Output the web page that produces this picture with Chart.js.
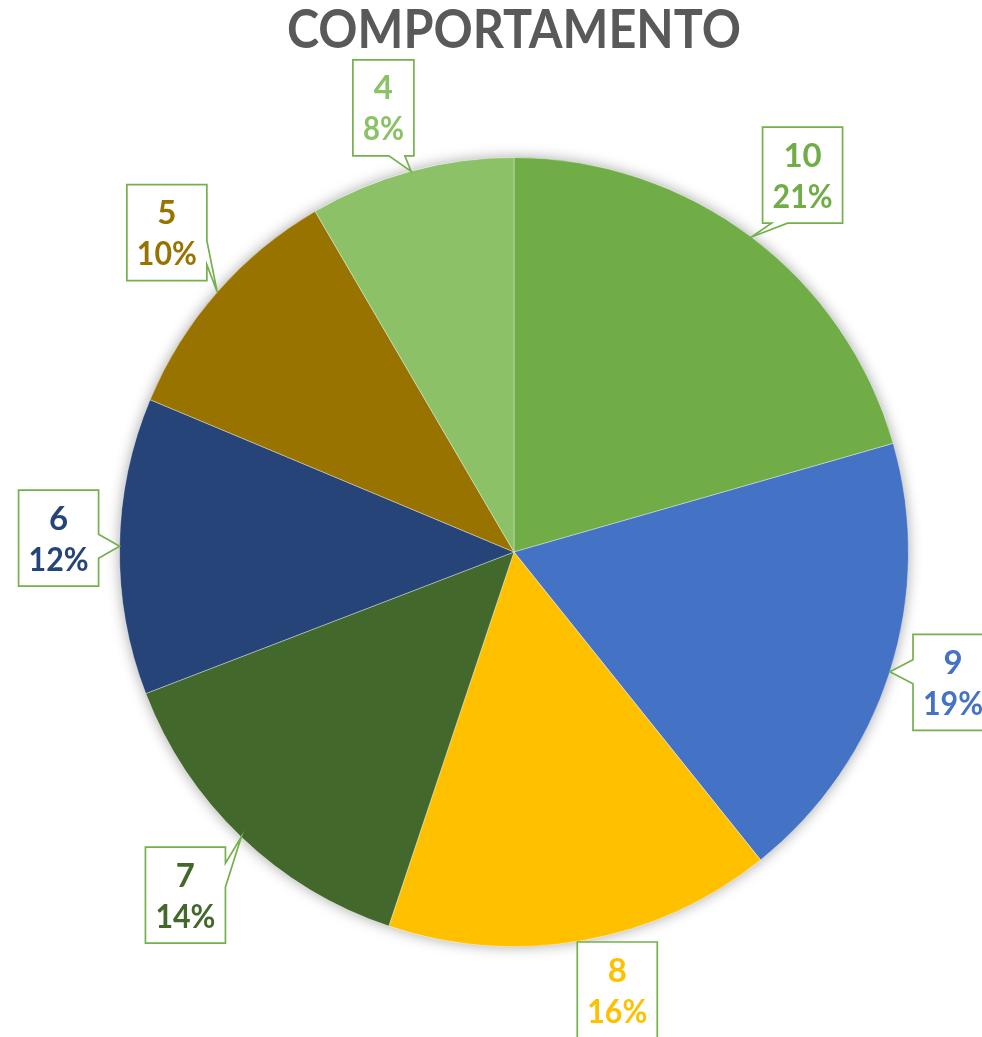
<!DOCTYPE html>
<html>
<head>
<meta charset="utf-8">
<script src="https://cdn.jsdelivr.net/npm/chart.js@4.4.1/dist/chart.umd.min.js"></script>
<style>
  html, body { margin: 0; padding: 0; background: #ffffff; }
  #wrap { width: 982px; height: 1037px; }
</style>
</head>
<body>
<div id="wrap"><canvas id="pie" width="982" height="1037"></canvas></div>
<script>
// Chart data
const chartTitle = 'COMPORTAMENTO';
const categories = ['10', '9', '8', '7', '6', '5', '4'];
const counts = [22, 20, 17, 15, 13, 11, 9];
const sliceColors = ['#70AD47', '#4472C4', '#FFC000', '#43682B', '#264478', '#997300', '#8CC168'];

// small nudges for the callout boxes, relative to their radial spot
const labelNudge = [[6, -2], [3, -12], [21, -5], [-4, 4], [14, -7], [6, -10], [-8, 9]];

const FONT = "Lato, 'Open Sans', sans-serif";
const total = counts.reduce((a, b) => a + b, 0);

// soft shadow under the whole pie
const pieShadow = {
    id: 'pieShadow',
    beforeDatasetsDraw(chart) {
        const arc = chart.getDatasetMeta(0).data[0];
        if (!arc) return;
        const ctx = chart.ctx;
        ctx.save();
        ctx.shadowColor = 'rgba(0,0,0,0.35)';
        ctx.shadowBlur = 14;
        ctx.fillStyle = '#ffffff';
        ctx.beginPath();
        ctx.arc(arc.x, arc.y, arc.outerRadius, 0, Math.PI * 2);
        ctx.fill();
        ctx.restore();
    }
};

// title + callout labels
const callouts = {
    id: 'callouts',
    afterDraw(chart) {
        const ctx = chart.ctx;
        const W = chart.width, H = chart.height;
        const clamp = (v, a, b) => Math.min(Math.max(v, a), b);

        ctx.save();
        ctx.fillStyle = '#595959';
        ctx.font = `bold 53px ${FONT}`;
        ctx.textAlign = 'center';
        ctx.textBaseline = 'middle';
        ctx.fillText(chartTitle, 514, 31, 454);
        ctx.restore();

        const meta = chart.getDatasetMeta(0);
        meta.data.forEach((arc, i) => {
            const mid = (arc.startAngle + arc.endAngle) / 2;
            const tipX = arc.x + Math.cos(mid) * arc.outerRadius;
            const tipY = arc.y + Math.sin(mid) * arc.outerRadius;
            const pct = Math.round(counts[i] / total * 100) + '%';

            const bw = pct.length > 2 ? 80 : 61;
            const bh = 96;
            let cx = arc.x + Math.cos(mid) * arc.outerRadius * 1.19;
            let cy = arc.y + Math.sin(mid) * arc.outerRadius * 1.19;
            cx = clamp(cx, bw / 2 + 2, W + 8 - bw / 2) + labelNudge[i][0];
            cy = clamp(cy, bh / 2 + 2, H + 6 - bh / 2) + labelNudge[i][1];
            const L = cx - bw / 2, R = cx + bw / 2, T = cy - bh / 2, B = cy + bh / 2;

            // callout outline with a wedge pointing at the slice edge
            const dx = (tipX - cx) / (bw / 2), dy = (tipY - cy) / (bh / 2);
            const inside = tipX > L - 3 && tipX < R + 3 && tipY > T - 3 && tipY < B + 3;
            const pts = [];
            if (inside) {
                pts.push([L, T], [R, T], [R, B], [L, B]);
            } else if (Math.abs(dx) > Math.abs(dy)) {
                const y0 = clamp(tipY, T + 28, B - 28);
                if (dx > 0) {
                    pts.push([L, T], [R, T], [R, y0 - 12], [tipX, tipY], [R, y0 + 12], [R, B], [L, B]);
                } else {
                    pts.push([L, T], [R, T], [R, B], [L, B], [L, y0 + 12], [tipX, tipY], [L, y0 - 12]);
                }
            } else {
                const x0 = clamp(tipX, L + 17, R - 17);
                if (dy > 0) {
                    pts.push([L, T], [R, T], [R, B], [x0 + 8, B], [tipX, tipY], [x0 - 8, B], [L, B]);
                } else {
                    pts.push([L, T], [x0 - 8, T], [tipX, tipY], [x0 + 8, T], [R, T], [R, B], [L, B]);
                }
            }
            ctx.save();
            ctx.beginPath();
            pts.forEach((p, k) => k ? ctx.lineTo(p[0], p[1]) : ctx.moveTo(p[0], p[1]));
            ctx.closePath();
            ctx.fillStyle = '#ffffff';
            ctx.fill();
            ctx.lineWidth = 1.7;
            ctx.strokeStyle = '#74B04C';
            ctx.stroke();

            ctx.fillStyle = sliceColors[i];
            ctx.font = `bold 33px ${FONT}`;
            ctx.textAlign = 'center';
            ctx.textBaseline = 'middle';
            ctx.fillText(categories[i], cx, cy - 19, bw - 12);
            ctx.fillText(pct, cx, cy + 22, bw - 20);
            ctx.restore();
        });
    }
};

new Chart(document.getElementById('pie'), {
    type: 'pie',
    data: {
        labels: categories,
        datasets: [{
            data: counts,
            backgroundColor: sliceColors,
            borderColor: 'rgba(255,255,255,0.35)',
            borderWidth: 1
        }]
    },
    options: {
        responsive: false,
        animation: false,
        layout: { padding: { left: 46, right: 0, top: 157, bottom: 90 } },
        plugins: {
            legend: { display: false },
            title: { display: false },
            tooltip: { enabled: false }
        }
    },
    plugins: [pieShadow, callouts]
});
</script>
</body>
</html>
